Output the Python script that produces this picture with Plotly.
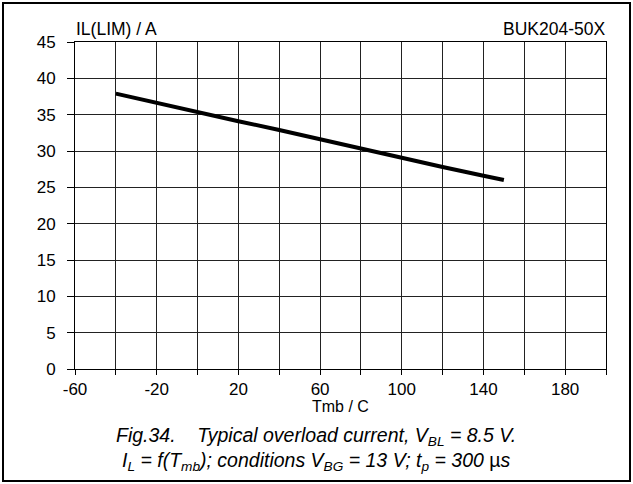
import plotly.graph_objects as go

# Data
tmb = [-40, -20, 0, 20, 40, 60, 80, 100, 120, 140, 150]
il_lim = [37.9, 36.6, 35.4, 34.1, 32.9, 31.6, 30.3, 29.1, 27.8, 26.6, 26.0]

x_tickvals = [-60, -20, 20, 60, 100, 140, 180]
x_ticktext = ["-60", "-20", "20", "60", "100", "140", "180"]
y_tickvals = [0, 5, 10, 15, 20, 25, 30, 35, 40, 45]

FONT = "Liberation Sans, Arial, sans-serif"

fig = go.Figure()
fig.add_trace(go.Scatter(x=tmb, y=il_lim, mode="lines",
                         line=dict(color="black", width=4), showlegend=False))

W, H = 633, 484
L, R, T, B = 75, 27, 42, 115
pw, ph = W - L - R, H - T - B

def px(x):
    return (x - L) / pw

def py(y):
    return (H - B - y) / ph

GRID = "#222222"

fig.update_layout(
    width=W, height=H,
    margin=dict(l=L, r=R, t=T, b=B),
    paper_bgcolor="white", plot_bgcolor="white",
    font=dict(family=FONT, size=17, color="black"),
    xaxis=dict(range=[-60, 200], tickvals=x_tickvals, ticktext=x_ticktext,
               showgrid=True, gridcolor=GRID, gridwidth=1,
               ticks="outside", ticklen=5, tickcolor="black",
               minor=dict(tick0=-60, dtick=20, showgrid=True, gridcolor=GRID,
                          gridwidth=1, ticks="outside", ticklen=5, tickcolor="black"),
               showline=True, linecolor="black", linewidth=1, mirror=True,
               zeroline=False, fixedrange=True),
    yaxis=dict(range=[0, 45], tickvals=y_tickvals,
               showgrid=True, gridcolor=GRID, gridwidth=1,
               ticks="outside", ticklen=7, tickcolor="black",
               ticklabelstandoff=8,
               showline=True, linecolor="black", linewidth=1, mirror=True,
               zeroline=False, fixedrange=True),
    shapes=[dict(type="rect", xref="paper", yref="paper",
                 x0=px(3), x1=px(630), y0=py(481), y1=py(3),
                 line=dict(color="black", width=2))],
    annotations=[
        dict(text="IL(LIM) / A", xref="paper", yref="paper", x=px(74), y=py(29),
             xanchor="left", yanchor="middle", showarrow=False, font=dict(size=17.5)),
        dict(text="BUK204-50X", xref="paper", yref="paper", x=px(607), y=py(29),
             xanchor="right", yanchor="middle", showarrow=False, font=dict(size=17.5)),
        dict(text="Tmb / C", xref="paper", yref="paper", x=px(340), y=py(406),
             xanchor="center", yanchor="middle", showarrow=False, font=dict(size=16)),
        dict(text="<i>Fig.34.    Typical overload current, V<sub>BL</sub> = 8.5 V.</i>",
             xref="paper", yref="paper", x=px(316), y=py(436),
             xanchor="center", yanchor="middle", showarrow=False, font=dict(size=19.5)),
        dict(text="<i>I<sub>L</sub> = f(T<sub>mb</sub>); conditions V<sub>BG</sub> = 13 V; t<sub>p</sub> = 300 </i>µ<i>s</i>",
             xref="paper", yref="paper", x=px(316), y=py(461),
             xanchor="center", yanchor="middle", showarrow=False, font=dict(size=19.5)),
    ],
)

fig.write_html("out.html", config={"displayModeBar": False},
               post_script="document.body.style.margin='0';")
